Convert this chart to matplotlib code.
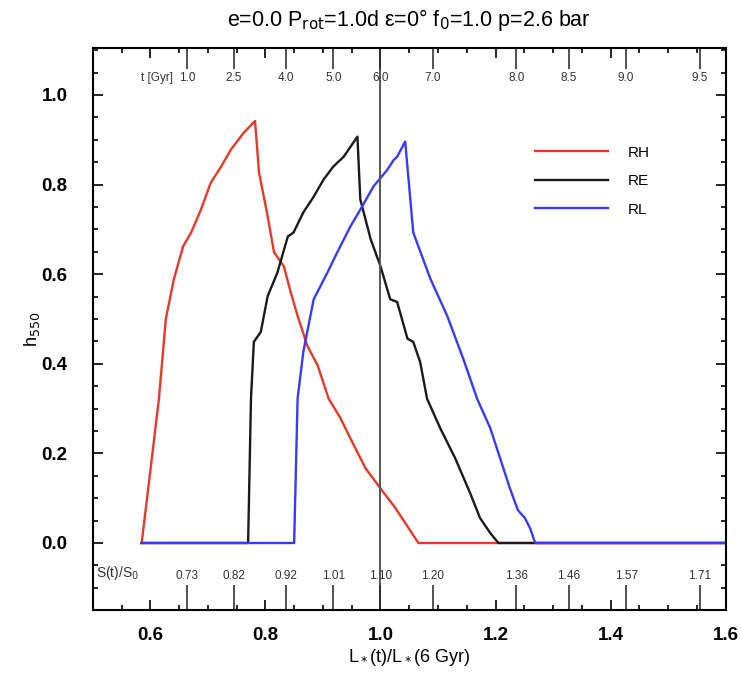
import numpy as np
import matplotlib
matplotlib.use("Agg")
import matplotlib.pyplot as plt
import matplotlib.transforms as mtransforms

plt.rcParams['font.family'] = ['Liberation Sans', 'DejaVu Sans']

# RH (red)
rh_x = [0.585, 0.600, 0.615, 0.627, 0.641, 0.657, 0.671, 0.688, 0.705, 0.723,
        0.740, 0.762, 0.782, 0.789, 0.804, 0.815, 0.832, 0.844, 0.856, 0.873,
        0.891, 0.910, 0.930, 0.948, 0.974, 1.000, 1.026, 1.066, 1.6]
rh_y = [0.0, 0.16, 0.322, 0.50, 0.589, 0.662, 0.693, 0.744, 0.804, 0.840,
        0.878, 0.915, 0.942, 0.827, 0.729, 0.649, 0.618, 0.560, 0.507, 0.440,
        0.396, 0.322, 0.280, 0.233, 0.167, 0.122, 0.078, 0.0, 0.0]

# RE (black)
re_x = [0.585, 0.770, 0.775, 0.780, 0.792, 0.804, 0.821, 0.839, 0.849, 0.866, 0.884,
        0.901, 0.918, 0.936, 0.960, 0.965, 0.983, 1.000, 1.017, 1.029, 1.047,
        1.057, 1.069, 1.081, 1.104, 1.130, 1.156, 1.173, 1.191, 1.205, 1.6]
re_y = [0.0, 0.0, 0.322, 0.449, 0.471, 0.551, 0.604, 0.684, 0.693, 0.738, 0.773,
        0.811, 0.840, 0.862, 0.907, 0.767, 0.678, 0.618, 0.544, 0.538, 0.456,
        0.449, 0.404, 0.322, 0.256, 0.189, 0.111, 0.056, 0.022, 0.0, 0.0]

# RL (blue)
rl_x = [0.585, 0.850, 0.856, 0.866, 0.884, 0.908, 0.925, 0.948, 0.965, 0.988, 1.012,
        1.023, 1.029, 1.043, 1.057, 1.087, 1.116, 1.144, 1.168, 1.191, 1.208,
        1.225, 1.239, 1.251, 1.260, 1.269, 1.6]
rl_y = [0.0, 0.0, 0.322, 0.427, 0.544, 0.604, 0.649, 0.707, 0.744, 0.796, 0.833,
        0.855, 0.862, 0.896, 0.693, 0.589, 0.507, 0.411, 0.322, 0.256, 0.189,
        0.122, 0.073, 0.056, 0.033, 0.0, 0.0]

# secondary scales (age on top, insolation on bottom), shared positions
scale_pos = [0.664, 0.745, 0.836, 0.918, 1.000, 1.091, 1.236, 1.327, 1.427, 1.555]
t_labels = ['1.0', '2.5', '4.0', '5.0', '6.0', '7.0', '8.0', '8.5', '9.0', '9.5']
s_labels = ['0.73', '0.82', '0.92', '1.01', '1.10', '1.20', '1.36', '1.46', '1.57', '1.71']

fig = plt.figure(figsize=(7.42, 6.75), dpi=100)
ax = fig.add_axes([0.125, 0.096, 0.853, 0.833])

ax.plot(rh_x, rh_y, color='#e8382c', lw=1.7, label='RH')
ax.plot(re_x, re_y, color='#1a1a1a', lw=1.7, label='RE')
ax.plot(rl_x, rl_y, color='#3a3aff', lw=1.7, label='RL')
ax.axvline(1.0, color='#555555', lw=1.4)

ax.set_xlim(0.5, 1.6)
ax.set_ylim(-0.15, 1.105)
ax.set_xticks(np.arange(0.6, 1.61, 0.2))
ax.set_xticks(np.arange(0.5, 1.601, 0.05), minor=True)
ax.set_yticks(np.arange(0.0, 1.01, 0.2))
ax.set_yticks(np.arange(-0.15, 1.101, 0.05), minor=True)
ax.xaxis.set_major_formatter(matplotlib.ticker.FormatStrFormatter('%.1f'))
ax.yaxis.set_major_formatter(matplotlib.ticker.FormatStrFormatter('%.1f'))
ax.tick_params(which='both', direction='in', top=True, right=True, width=1.2)
ax.tick_params(which='major', length=7, labelsize=13.5)
ax.tick_params(which='minor', length=3.5)
ax.tick_params(axis='x', which='major', pad=12)
ax.tick_params(axis='y', which='major', pad=18)
for lab in ax.get_xticklabels() + ax.get_yticklabels():
    lab.set_fontweight('bold')
for sp in ax.spines.values():
    sp.set_linewidth(1.5)

trans = mtransforms.blended_transform_factory(ax.transData, ax.transAxes)
ax.vlines(scale_pos, 0.962, 1.0, transform=trans, color='#222222', lw=1.1)
ax.vlines(scale_pos, 0.0, 0.045, transform=trans, color='#222222', lw=1.1)
for p, tl, sl in zip(scale_pos, t_labels, s_labels):
    ax.text(p, 0.957, tl, transform=trans, ha='center', va='top', fontsize=8.5, color='#333333')
    ax.text(p, 0.05, sl, transform=trans, ha='center', va='bottom', fontsize=8.5, color='#333333')
ax.text(0.612, 0.957, 't [Gyr]', transform=trans, ha='center', va='top', fontsize=8.5, color='#333333')
ax.text(0.005, 0.05, 'S(t)/S$_0$', transform=ax.transAxes, ha='left', va='bottom', fontsize=10, color='#333333')

ax.legend(loc='upper left', bbox_to_anchor=(0.686, 0.84), frameon=False, fontsize=11,
          handlelength=4.8, handletextpad=1.3, labelspacing=0.95, borderpad=0)

ax.set_title('e=0.0 P$_{\\rm rot}$=1.0d \u03b5=0\u00b0 f$_0$=1.0 p=2.6 bar', fontsize=15.5, pad=16)
ax.set_xlabel('L$_*$(t)/L$_*$(6 Gyr)', fontsize=13, labelpad=2)
ax.set_ylabel('h$_{550}$', fontsize=13, labelpad=0)

fig.savefig('out.png', dpi=100)
